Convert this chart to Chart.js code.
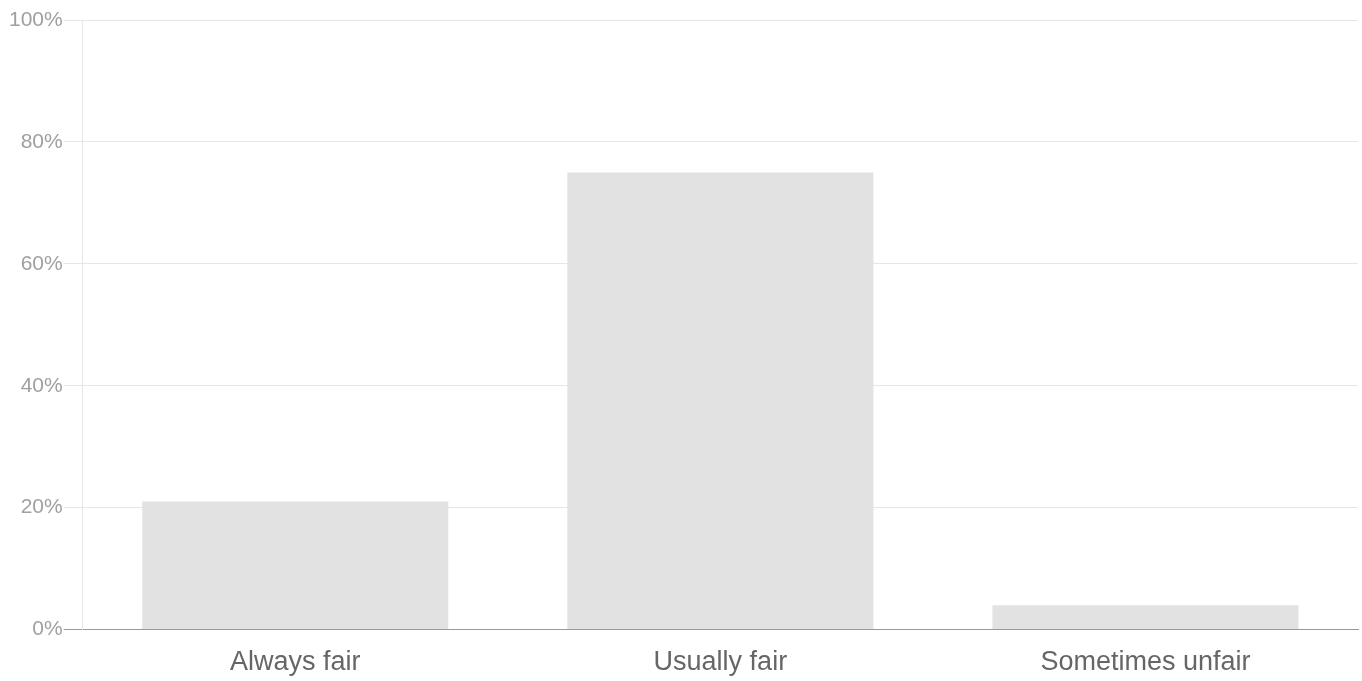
<!DOCTYPE html>
<html>
<head>
<meta charset="utf-8">
<script src="https://cdn.jsdelivr.net/npm/chart.js@4"></script>
<style>
  html, body { margin: 0; padding: 0; background: #fff; }
  #wrap { width: 1362px; height: 681px; }
</style>
</head>
<body>
<div id="wrap"><canvas id="c"></canvas></div>
<script>
const categories = ["Always fair", "Usually fair", "Sometimes unfair"];
const percentValues = [21, 75, 4];
const yTickValues = [0, 20, 40, 60, 80, 100];

new Chart(document.getElementById('c'), {
  type: 'bar',
  data: {
    labels: categories,
    datasets: [{
      data: percentValues,
      backgroundColor: '#e2e2e2',
      borderWidth: 0
    }]
  },
  options: {
    responsive: true,
    maintainAspectRatio: false,
    animation: false,
    layout: { padding: { top: 20, right: 4, bottom: 0, left: 8 } },
    plugins: { legend: { display: false }, tooltip: { enabled: false } },
    scales: {
      x: {
        grid: { display: false, drawTicks: true, tickLength: 15 },
        border: { display: true, color: '#999999', width: 1 },
        ticks: {
          color: '#666666',
          font: { family: '"Liberation Sans", Arial, sans-serif', size: 27 },
          padding: 2
        }
      },
      y: {
        min: 0,
        max: 100,
        afterBuildTicks: (axis) => { axis.ticks = yTickValues.map(v => ({ value: v })); },
        grid: {
          color: (ctx) => (ctx.tick && ctx.tick.value === 0) ? '#999999' : '#e6e6e6',
          tickLength: 19,
          lineWidth: 1
        },
        border: { display: true, color: '#e6e6e6' },
        ticks: {
          color: '#a0a0a0',
          font: { family: '"Liberation Sans", Arial, sans-serif', size: 21 },
          padding: 1,
          callback: (v) => v + '%'
        }
      }
    }
  }
});
</script>
</body>
</html>
